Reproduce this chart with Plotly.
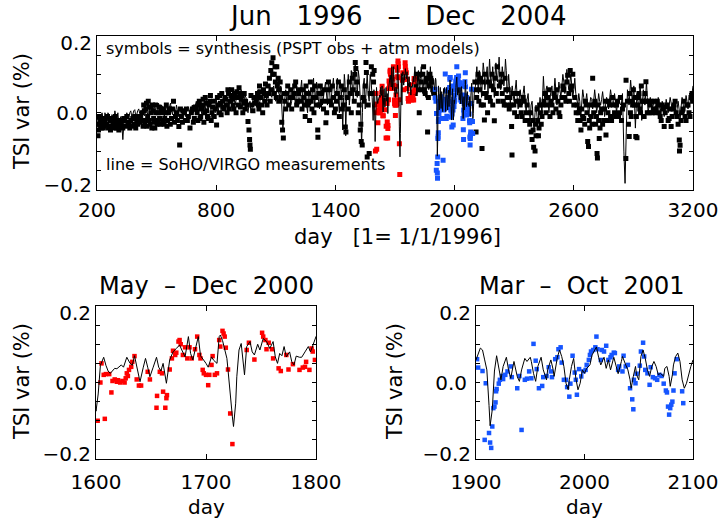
import plotly.graph_objects as go

# ---------------- data ----------------
# SoHO/VIRGO TSI variation (%) vs day (1 = 1/1/1996)
virgo_line = [
    (200,-0.02),(210,-0.005),(220,-0.03),(230,-0.01),(240,0.0),(250,-0.02),(260,-0.005),(270,-0.025),(280,-0.01),(290,0.005),
    (300,-0.015),(310,-0.03),(320,-0.01),(330,-0.07),(340,-0.01),(350,0.0),(360,-0.015),(370,0.005),(380,-0.005),(390,0.008),
    (400,-0.005),(410,0.01),(420,-0.005),(430,0.008),(440,-0.008),(450,0.01),(460,0.0),(470,0.015),(480,-0.005),(490,0.02),
    (500,0.0),(510,0.025),(520,0.005),(530,0.015),(540,-0.01),(550,0.02),(560,0.005),(570,0.025),(580,-0.005),(590,0.01),
    (600,0.02),(610,-0.01),(620,0.005),(630,-0.015),(640,0.01),(650,0.0),(660,0.015),(670,-0.005),(680,0.02),(690,0.005),
    (700,0.03),(710,0.0),(720,0.025),(730,-0.015),(740,0.02),(750,0.04),(760,0.005),(770,0.03),(780,-0.02),(790,0.015),
    (800,0.035),(810,0.0),(820,0.03),(830,0.01),(840,0.04),(850,0.015),(860,0.035),(870,0.05),(880,0.02),(890,0.055),
    (900,0.03),(910,0.06),(920,0.025),(930,0.05),(940,0.02),(950,0.04),(960,0.0),(970,0.03),(980,0.01),(990,0.045),
    (1000,0.02),(1010,0.06),(1020,0.03),(1030,0.065),(1040,0.025),(1050,0.05),(1060,0.035),(1070,0.075),(1080,0.04),(1090,0.07),
    (1100,0.03),(1110,0.08),(1120,0.045),(1130,0.02),(1136,-0.045),(1140,0.01),(1150,0.06),(1160,0.02),(1170,0.065),(1180,0.03),
    (1190,0.07),(1200,0.015),(1210,0.055),(1220,0.03),(1230,0.085),(1240,0.02),(1250,0.06),(1260,0.0),(1270,0.05),(1280,0.03),
    (1290,0.09),(1300,0.04),(1310,0.07),(1320,0.01),(1330,0.06),(1340,0.035),(1350,0.08),(1360,0.02),(1370,0.065),(1380,0.04),
    (1390,0.09),(1400,0.03),(1410,0.09),(1420,0.0),(1430,0.06),(1437,-0.045),(1445,0.1),(1452,-0.06),(1460,0.07),(1470,0.02),
    (1480,0.11),(1490,0.03),(1500,0.13),(1510,0.04),(1520,0.09),(1532,-0.085),(1540,0.07),(1550,0.01),(1560,0.1),(1570,0.03),
    (1580,0.08),(1590,-0.02),(1597,0.02),
    (1600,-0.075),(1602,-0.03),(1604,0.045),(1607,0.066),(1609,0.045),(1611,0.03),(1613,0.024),(1615,0.03),(1617,0.037),(1619,0.036),
    (1621,0.04),(1623,0.046),(1625,0.04),(1628,0.066),(1631,0.05),(1633,0.045),(1635,0.07),(1637,0.04),(1640,0.002),(1643,0.04),
    (1645,0.063),(1647,0.04),(1649,0.015),(1652,0.04),(1655,0.066),(1657,0.04),(1659,0.03),(1661,0.05),(1664,-0.002),(1667,0.059),
    (1670,0.08),(1673,0.089),(1676,0.098),(1678,0.085),(1681,0.067),(1684,0.12),(1686,0.076),(1688,0.059),(1690,0.085),(1693,0.12),
    (1695,0.07),(1698,0.059),(1700,0.05),(1702,0.04),(1705,0.067),(1707,0.058),(1710,0.05),(1712,0.12),(1713,0.124),(1715,0.11),
    (1717,0.09),(1719,0.063),(1720,0.033),(1722,-0.037),(1724,-0.09),(1725,-0.115),(1727,-0.054),(1728,0.015),(1730,0.085),(1732,0.102),
    (1734,0.033),(1735,0.02),(1737,0.094),(1740,0.107),(1742,0.08),(1744,0.072),(1747,0.1),(1749,0.085),(1752,0.115),(1755,0.107),
    (1758,0.089),(1761,0.107),(1763,0.067),(1765,0.05),(1767,0.076),(1769,0.07),(1771,0.094),(1773,0.067),(1776,0.08),(1778,0.054),
    (1780,0.046),(1782,0.069),(1785,0.066),(1787,0.066),(1790,0.08),(1793,0.094),(1795,0.08),(1797,0.098),(1799,0.115),(1800,0.12),
    (1803,0.1),(1810,0.05),(1818,0.11),(1825,0.06),(1832,0.12),(1840,0.05),(1848,0.1),(1855,0.04),(1862,0.11),(1870,0.06),
    (1878,0.12),(1885,0.05),(1892,0.09),(1897,0.07),
    (1900,0.059),(1904,0.09),(1906,0.085),(1908,0.059),(1910,0.033),(1912,-0.06),(1913,-0.113),(1915,-0.071),(1916,-0.01),(1917,0.03),
    (1919,0.07),(1921,0.042),(1923,0.007),(1925,0.042),(1928,0.066),(1930,0.033),(1932,0.011),(1935,0.055),(1938,0.016),(1940,0.003),
    (1942,0.033),(1945,0.063),(1947,0.055),(1950,0.066),(1951,0.055),(1953,0.024),(1955,0.003),(1957,0.042),(1960,0.066),(1962,0.033),
    (1965,0.007),(1966,0.033),(1969,0.059),(1971,0.035),(1972,0.016),(1975,0.066),(1977,0.085),(1979,0.068),(1981,0.042),(1983,-0.002),
    (1985,-0.019),(1986,0.007),(1988,0.042),(1990,0.063),(1992,0.011),(1994,-0.019),(1996,-0.002),(1998,0.033),(2000,0.024),(2002,0.037),
    (2005,0.046),(2007,0.072),(2009,0.081),(2011,0.093),(2013,0.066),(2015,0.046),(2018,0.066),(2020,0.037),(2022,0.059),(2024,0.033),
    (2027,0.066),(2029,0.042),(2031,0.023),(2034,0.055),(2035,0.068),(2038,0.046),(2040,0.033),(2042,0.007),(2043,-0.015),(2045,0.016),
    (2047,0.042),(2048,0.02),(2050,0.007),(2052,0.068),(2054,0.085),(2056,0.063),(2058,0.033),(2060,0.016),(2062,0.042),(2064,0.055),
    (2066,0.042),(2068,0.02),(2070,0.024),(2073,0.016),(2074,0.037),(2076,0.042),(2078,0.016),(2079,-0.01),(2081,0.02),(2082,0.046),
    (2084,0.068),(2086,0.077),(2088,0.055),(2090,0.007),(2092,-0.015),(2094,-0.002),(2096,0.024),(2098,0.042),(2100,0.059),
    (2105,0.07),(2112,0.12),(2120,0.05),(2128,0.1),(2136,0.04),(2144,0.13),(2152,0.06),(2160,0.11),(2168,0.05),(2176,0.14),
    (2184,0.07),(2192,0.12),(2200,0.04),(2208,0.13),(2216,0.08),(2224,0.145),(2232,0.06),(2240,0.12),(2248,0.07),(2256,0.14),
    (2264,0.05),(2272,0.1),(2280,0.02),(2290,0.07),(2300,0.03),(2310,0.085),(2320,0.01),(2330,0.06),(2340,0.02),(2350,0.07),
    (2360,0.0),(2370,0.05),(2380,-0.02),(2390,0.03),(2400,-0.04),(2410,0.02),(2420,-0.03),(2430,0.04),(2440,0.0),(2447,0.095),
    (2455,0.02),(2465,0.07),(2475,0.0),(2485,0.06),(2495,0.03),(2505,0.09),(2515,0.02),(2525,0.08),(2535,0.04),(2545,0.1),
    (2555,0.05),(2565,0.113),(2575,0.06),(2585,0.1),(2595,0.04),(2605,0.09),(2615,0.03),(2625,0.05),(2635,-0.01),(2645,0.06),
    (2655,0.02),(2665,0.05),(2675,-0.01),(2685,0.04),(2695,0.01),(2705,0.06),(2715,0.0),(2725,0.05),(2735,0.02),(2745,0.055),
    (2755,-0.01),(2765,0.04),(2775,0.01),(2785,0.06),(2795,0.02),(2805,0.05),(2815,0.0),(2825,0.045),(2835,0.02),(2845,0.05),
    (2852,-0.1),(2858,-0.184),(2864,-0.05),(2870,0.06),(2878,0.02),(2886,0.085),(2894,0.03),(2902,0.07),(2910,-0.04),(2918,0.05),
    (2926,0.01),(2934,0.075),(2942,-0.02),(2950,0.06),(2958,0.02),(2966,0.08),(2974,0.0),(2985,0.04),(2995,0.01),(3005,0.035),
    (3015,0.0),(3025,0.04),(3035,0.005),(3045,0.03),(3055,-0.01),(3065,0.035),(3075,0.0),(3085,0.04),(3095,0.01),(3105,0.035),
    (3115,-0.01),(3125,0.03),(3135,-0.02),(3145,0.04),(3155,0.0),(3165,0.045),(3175,0.01),(3185,0.05),(3195,0.06),(3200,0.07),
]

# further VIRGO readings between the ones above (outside the two zoomed periods)
virgo_line_more = [
    (205,-0.01),(215,-0.02),(225,0.0),(235,-0.025),(245,-0.01),(255,0.0),(265,-0.02),(275,-0.005),(285,-0.02),(295,-0.01),
    (305,0.0),(315,-0.02),(325,-0.03),(335,-0.03),(345,-0.015),(355,-0.01),(365,0.0),(375,-0.01),(385,0.005),(395,-0.008),
    (405,0.005),(415,-0.002),(425,0.005),(435,-0.005),(445,0.005),(455,-0.005),(465,0.01),(475,0.0),(485,0.01),(495,0.005),
    (505,0.015),(515,0.0),(525,0.02),(535,0.0),(545,0.01),(555,-0.005),(565,0.015),(575,0.005),(585,0.015),(595,0.0),
    (605,0.005),(615,0.01),(625,-0.005),(635,0.005),(645,-0.01),(655,0.015),(665,0.0),(675,0.01),(685,0.0),(695,0.02),
    (705,0.01),(715,0.02),(725,0.005),(735,0.01),(745,0.0),(755,0.02),(765,0.025),(775,0.0),(785,0.01),(795,0.0),
    (805,0.02),(815,0.025),(825,0.0),(835,0.03),(845,0.02),(855,0.03),(865,0.01),(875,0.025),(885,0.045),(895,0.02),
    (905,0.045),(915,0.035),(925,0.06),(935,0.03),(945,0.045),(955,0.015),(965,0.02),(975,0.0),(985,0.035),(995,0.02),
    (1005,0.045),(1015,0.02),(1025,0.05),(1035,0.03),(1045,0.06),(1055,0.03),(1065,0.06),(1075,0.045),(1085,0.065),(1095,0.04),
    (1105,0.065),(1115,0.05),(1125,0.07),(1145,0.045),(1155,0.03),(1165,0.05),(1175,0.02),(1185,0.06),(1195,0.04),(1205,0.07),
    (1215,0.02),(1225,0.06),(1235,0.04),(1245,0.07),(1255,0.02),(1265,0.06),(1275,0.02),(1285,0.06),(1295,0.02),(1305,0.08),
    (1315,0.03),(1325,0.075),(1335,0.02),(1345,0.06),(1355,0.04),(1365,0.08),(1375,0.02),(1385,0.07),(1395,0.05),
    (1405,0.06),(1415,0.03),(1425,0.08),(1434,0.02),(1441,0.04),(1448,0.08),(1456,0.03),(1465,0.1),(1475,0.05),(1485,0.07),
    (1495,0.1),(1505,0.06),(1515,0.11),(1526,0.03),(1536,0.0),(1545,0.09),(1555,0.06),(1565,0.05),(1575,0.1),(1585,0.04),(1594,0.06),
    (1806,0.08),(1814,0.09),(1821,0.07),(1828,0.09),(1836,0.08),(1844,0.08),(1851,0.07),(1858,0.08),(1866,0.09),(1874,0.08),
    (1881,0.09),(1889,0.07),
    (2109,0.09),(2116,0.08),(2124,0.11),(2132,0.07),(2140,0.09),(2148,0.11),(2156,0.08),(2164,0.12),(2172,0.09),(2180,0.1),
    (2188,0.09),(2196,0.08),(2204,0.1),(2212,0.09),(2220,0.11),(2228,0.1),(2236,0.09),(2244,0.1),(2252,0.09),(2260,0.11),
    (2268,0.06),(2276,0.07),(2285,0.05),(2295,0.045),(2305,0.06),(2315,0.04),(2325,0.035),(2335,0.04),(2345,0.05),(2355,0.03),
    (2365,0.035),(2375,0.01),(2385,0.02),(2395,-0.01),(2405,0.0),(2415,-0.01),(2425,0.01),(2435,0.02),(2451,0.05),(2460,0.06),
    (2470,0.03),(2480,0.04),(2490,0.07),(2500,0.05),(2510,0.06),(2520,0.05),(2530,0.06),(2540,0.07),(2550,0.08),(2560,0.07),
    (2570,0.08),(2580,0.075),(2590,0.07),(2600,0.06),(2610,0.05),(2620,0.02),(2630,0.03),(2640,0.02),(2650,0.04),(2660,0.03),
    (2670,0.02),(2680,0.02),(2690,0.035),(2700,0.03),(2710,0.035),(2720,0.02),(2730,0.03),(2740,0.035),(2750,0.03),(2760,0.02),
    (2770,0.03),(2780,0.035),(2790,0.04),(2800,0.025),(2810,0.03),(2820,0.025),(2830,0.03),(2840,0.025),(2874,0.04),(2882,0.05),
    (2890,0.06),(2898,0.045),(2906,0.02),(2914,0.01),(2922,0.03),(2930,0.04),(2938,0.03),(2946,0.03),(2954,0.04),(2962,0.05),
    (2970,0.04),(2980,0.02),(2990,0.03),(3000,0.02),(3010,0.02),(3020,0.02),(3030,0.025),(3040,0.015),(3050,0.02),(3060,0.01),
    (3070,0.02),(3080,0.02),(3090,0.025),(3100,0.02),(3110,0.02),(3120,0.01),(3130,0.01),(3140,0.015),(3150,0.025),(3160,0.02),
    (3170,0.03),(3180,0.035),(3190,0.03),
]

# synthesis (PSPT obs + atm models), plotted black outside the two highlighted periods
synth_black = [
    (205,-0.06),(210,-0.03),(215,-0.02),(222,-0.04),(228,-0.025),(235,-0.035),(242,-0.015),(250,-0.03),(258,-0.04),(265,-0.02),
    (272,-0.035),(280,-0.025),(288,-0.04),(295,-0.02),(302,-0.03),(310,-0.045),(318,-0.02),(325,-0.035),(340,-0.02),(360,-0.025),
    (380,-0.015),(400,-0.02),(420,-0.01),(428,0.0),(435,0.02),(440,-0.03),(446,0.01),(452,-0.035),(458,0.03),(463,-0.02),
    (470,0.015),(476,-0.04),(482,0.005),(488,-0.025),(495,0.02),(502,-0.03),(508,0.0),(515,-0.015),(522,0.01),(530,-0.02),
    (538,-0.03),(545,0.0),(555,-0.02),(565,0.01),(575,-0.015),(585,0.03),(595,-0.01),(612,-0.036),(616,-0.084),(625,-0.01),
    (640,0.0),(655,-0.02),(668,-0.04),(680,0.01),(690,-0.015),(700,0.01),(708,-0.02),(715,0.03),(722,-0.01),(730,0.02),
    (738,-0.025),(745,0.04),(752,0.005),(760,-0.015),(768,0.03),(775,-0.02),(782,0.015),(790,-0.01),(802,-0.032),(810,0.02),
    (818,0.045),(825,-0.005),(832,0.03),(840,0.01),(848,0.035),(855,0.0),(862,0.05),(870,0.03),(878,0.06),(885,0.02),
    (892,0.05),(900,0.0),(908,0.04),(915,0.065),(922,0.015),(930,0.045),(938,0.025),(945,0.01),(960,-0.023),(965,-0.045),
    (968,-0.07),(970,-0.084),(972,-0.095),(980,0.02),(990,0.04),(1000,0.03),(1008,0.05),(1015,0.01),(1022,0.055),(1030,0.02),
    (1038,0.06),(1045,0.03),(1052,0.045),(1060,0.07),(1068,0.09),(1075,0.11),(1080,0.13),(1086,0.143),(1092,0.1),(1098,0.08),
    (1105,0.12),(1112,0.09),(1118,0.06),(1125,0.04),(1130,-0.025),(1134,-0.045),(1138,-0.066),(1145,0.03),(1155,0.05),(1165,0.02),
    (1175,0.06),(1185,0.04),(1195,0.07),(1205,0.02),(1215,0.05),(1225,0.03),(1232,0.01),(1240,0.04),(1248,-0.01),(1255,0.05),
    (1262,0.02),(1270,-0.02),(1278,0.03),(1285,0.06),(1292,0.0),(1300,0.04),(1311,-0.045),(1312,-0.064),(1320,0.02),(1330,0.05),
    (1340,0.01),(1352,-0.026),(1360,0.03),(1370,0.06),(1380,0.02),(1390,0.04),(1400,0.01),(1410,0.05),(1420,-0.01),(1430,0.07),
    (1440,0.02),(1450,-0.037),(1453,-0.05),(1460,0.04),(1470,0.08),(1480,0.0),(1490,0.06),(1497,0.1),(1500,0.131),(1503,0.115),
    (1510,0.05),(1520,0.02),(1525,-0.045),(1528,-0.03),(1530,-0.075),(1535,-0.084),(1545,0.03),(1554,0.131),(1556,0.105),(1560,-0.115),
    (1570,-0.106),(1575,0.05),(1581,0.12),(1588,0.1),(1595,0.11),
    (1805,0.07),(1812,0.09),(1822,0.0),(1830,0.08),(1840,0.1),(1848,0.06),(1856,0.08),(1864,-0.05),(1872,0.07),(1880,0.09),(1890,0.06),
    (2105,0.06),(2108,-0.05),(2115,0.08),(2122,0.03),(2130,0.09),(2138,-0.093),(2145,0.02),(2150,-0.019),(2158,0.05),(2166,0.0),
    (2175,0.04),(2185,0.07),(2192,0.02),(2200,-0.021),(2210,0.05),(2220,0.03),(2232,0.08),(2240,0.05),(2250,0.02),(2258,0.06),
    (2265,0.04),(2275,0.01),(2287,-0.036),(2289,-0.11),(2298,0.02),(2305,0.05),(2315,-0.01),(2325,0.03),(2335,0.0),(2345,0.04),
    (2355,-0.02),(2365,0.02),(2378,-0.03),(2385,-0.05),(2390,-0.07),(2395,-0.045),(2398,-0.09),(2401,-0.136),(2405,-0.1),(2410,-0.06),
    (2418,-0.02),(2425,-0.04),(2432,0.0),(2440,-0.01),(2450,0.03),(2460,0.0),(2470,0.04),(2480,-0.01),(2490,0.02),(2500,0.05),
    (2510,0.01),(2520,0.03),(2530,-0.01),(2540,0.04),(2550,0.06),(2560,0.03),(2569,0.098),(2575,0.05),(2582,0.11),(2590,0.07),
    (2600,0.02),(2612,0.0),(2620,-0.02),(2628,0.01),(2636,-0.045),(2645,-0.01),(2655,-0.03),(2662,0.02),(2670,-0.075),(2674,-0.088),
    (2680,-0.04),(2688,-0.01),(2695,0.09),(2702,0.02),(2710,-0.03),(2717,-0.106),(2719,-0.118),(2725,-0.02),(2728,-0.067),(2735,0.0),
    (2745,-0.03),(2755,0.01),(2762,-0.058),(2768,-0.02),(2775,0.03),(2785,-0.01),(2795,0.04),(2805,0.0),(2815,0.02),(2825,-0.01),
    (2835,0.04),(2845,0.01),(2862,-0.119),(2863,0.085),(2879,-0.062),(2885,0.0),(2892,0.03),(2900,0.06),(2905,0.02),(2912,-0.062),
    (2918,-0.065),(2925,0.04),(2932,0.01),(2940,0.07),(2950,0.03),(2958,0.05),(2963,0.081),(2970,0.0),(2985,0.02),(2995,0.0),
    (3005,0.03),(3015,0.01),(3025,0.02),(3035,-0.01),(3045,0.02),(3055,-0.036),(3060,0.0),(3070,0.02),(3080,-0.015),(3090,-0.036),
    (3100,0.01),(3110,0.03),(3120,-0.01),(3131,-0.071),(3132,-0.1),(3135,-0.085),(3140,-0.02),(3150,0.01),(3160,-0.01),(3170,0.02),
    (3180,0.0),(3190,0.04),(3198,0.03),
]

# further black synthesis points inside the dense band
synth_black_more = [
    (203,-0.03),(207,-0.045),(212,-0.01),(218,-0.035),(225,-0.015),(232,-0.04),(238,-0.02),(245,-0.03),(253,-0.01),(262,-0.035),
    (268,-0.045),(276,-0.015),(284,-0.03),(292,-0.01),(298,-0.04),(306,-0.02),(314,-0.035),(322,-0.025),(330,-0.04),(335,-0.015),
    (345,-0.035),(350,-0.01),(355,-0.03),(365,-0.04),(370,-0.02),(375,-0.035),(385,-0.03),(390,-0.01),(395,-0.04),(405,-0.03),
    (410,-0.01),(415,-0.025),(424,-0.02),(432,-0.035),(438,0.005),(443,-0.02),(449,0.025),(455,-0.01),(461,0.015),(467,-0.03),
    (473,0.0),(479,0.02),(485,-0.015),(491,-0.04),(498,0.0),(505,-0.02),(512,0.015),(519,-0.03),(526,0.0),(534,0.01),
    (541,-0.015),(549,0.02),(552,-0.035),(560,0.0),(569,-0.03),(580,0.01),(590,-0.025),(600,0.0),(605,-0.02),(620,0.01),
    (630,-0.025),(635,0.005),(645,-0.02),(650,0.01),(660,-0.01),(675,0.0),(685,-0.025),(695,0.015),
    (704,0.0),(712,0.02),(719,-0.015),(726,0.01),(734,0.035),(742,0.0),(749,0.025),(756,-0.01),(764,0.02),(771,0.045),
    (779,0.0),(786,0.03),(795,0.01),(806,0.04),(814,0.0),(821,0.025),(828,0.05),(836,0.015),(844,0.04),(852,0.02),
    (859,0.06),(866,0.01),(874,0.045),(882,0.035),(889,0.01),(896,0.04),(904,0.055),(912,0.02),(919,0.05),(926,0.035),
    (934,0.0),(941,0.05),(948,0.03),(955,0.02),(975,0.045),(985,0.005),(995,0.025),
    (1004,0.04),(1012,0.02),(1018,0.07),(1026,0.04),(1034,0.0),(1042,0.05),(1048,0.075),(1056,0.02),(1064,0.05),(1072,0.03),
    (1078,0.06),(1084,0.1),(1090,0.05),(1096,0.12),(1102,0.04),(1108,0.07),(1115,0.03),(1122,0.08),(1142,0.05),(1150,0.01),
    (1160,0.07),(1170,0.04),(1180,0.01),(1190,0.05),(1200,0.08),(1210,0.03),(1220,0.06),
    (1236,0.06),(1244,0.02),(1252,0.07),(1258,0.03),(1266,0.05),(1274,0.08),(1282,0.01),(1288,0.04),(1296,0.07),(1304,0.02),
    (1316,0.05),(1324,0.07),(1335,0.03),(1345,0.06),(1356,0.0),(1365,0.08),(1375,0.03),(1385,0.07),(1395,0.0),(1405,0.03),
    (1415,0.08),(1425,0.04),(1435,0.01),(1445,0.06),(1465,0.01),(1475,0.05),(1485,0.09),(1495,0.03),(1507,0.08),(1515,0.0),
    (1540,0.04),(1550,0.07),(1565,0.02),(1585,0.05),(1592,0.08),
    (1802,0.05),(1808,0.1),(1816,0.06),(1826,0.1),(1836,0.06),(1844,0.12),(1852,0.05),(1860,0.09),(1868,0.04),(1876,0.1),
    (1885,0.08),(1895,0.05),
    (2102,0.08),(2111,0.04),(2118,0.1),(2126,0.06),(2134,0.02),(2142,0.08),(2148,0.05),(2155,0.1),(2162,0.04),(2170,0.08),
    (2180,0.03),(2188,0.1),(2196,0.06),(2204,0.09),(2214,0.12),(2225,0.07),(2236,0.1),(2245,0.03),(2254,0.09),(2262,0.02),
    (2270,0.06),(2278,0.04),(2283,0.02),(2293,0.05),(2302,0.0),(2310,0.03),(2320,0.05),(2330,0.02),(2340,-0.01),(2350,0.03),
    (2360,0.0),(2370,-0.02),(2382,0.0),(2393,-0.02),(2408,-0.03),(2415,0.01),(2422,-0.06),(2428,0.02),(2436,-0.03),(2444,0.02),
    (2455,0.05),(2465,0.02),(2475,0.06),(2485,0.03),(2495,0.0),(2505,0.04),(2515,0.06),(2525,0.0),(2535,0.02),(2545,0.07),
    (2555,0.04),(2565,0.08),(2578,0.03),(2586,0.06),(2595,0.1),(2605,0.04),
    (2616,0.02),(2625,0.0),(2632,-0.02),(2640,0.01),(2650,-0.015),(2658,0.03),(2666,0.0),(2678,-0.02),(2684,0.02),(2692,-0.03),
    (2700,0.0),(2706,0.03),(2714,-0.01),(2722,0.02),(2732,-0.04),(2740,0.01),(2750,-0.02),(2758,0.03),(2772,0.0),(2780,0.02),
    (2790,-0.02),(2800,0.02),(2810,-0.01),(2820,0.03),(2830,0.0),(2840,-0.02),(2850,0.02),
    (2870,0.03),(2875,-0.03),(2882,0.05),(2889,-0.01),(2896,0.02),(2908,0.04),(2915,-0.01),(2922,0.02),(2928,0.05),(2936,0.0),
    (2945,0.03),(2954,-0.01),(2966,0.03),(2975,0.03),(2980,0.0),(2990,0.03),(3000,0.01),(3010,0.0),(3020,0.03),(3030,0.0),
    (3040,-0.02),(3050,0.01),(3065,0.015),(3075,-0.02),(3085,0.01),(3095,-0.01),(3105,0.02),(3115,0.0),(3125,-0.03),(3145,0.0),
    (3155,0.03),(3165,-0.02),(3175,0.02),(3185,-0.01),(3195,0.05),
]

# synthesis, May - Dec 2000 (red)
synth_red = [
    (1601.5,-0.10),(1604,0.0),(1605,0.05),(1607,0.02),(1608,-0.095),(1609,0.022),(1612,0.022),(1614,-0.026),(1615,0.004),(1617,0.008),
    (1619,0.002),(1620,0.006),(1622,0.0),(1624,0.004),(1626,0.0),(1627,0.011),(1628,0.024),(1629,0.017),(1630,0.033),(1632,0.041),
    (1633,0.054),(1635,0.069),(1637,0.008),(1639,-0.008),(1641,-0.008),(1647,0.028),(1649,0.008),(1655,-0.066),(1655.5,-0.035),(1658,0.028),
    (1660,0.024),(1661,-0.024),(1663,-0.066),(1664,-0.041),(1664.5,-0.033),(1667,0.034),(1669,0.063),(1670,0.083),(1672,0.072),(1673,0.078),
    (1675,0.107),(1676,0.111),(1677,0.10),(1679,0.072),(1681,0.092),(1683,0.063),(1685,0.092),(1687,0.063),(1690,0.087),(1692,0.12),
    (1694,0.072),(1695,0.063),(1697,0.033),(1698,0.024),(1700,0.02),(1702,-0.007),(1703,0.02),(1705,0.046),(1706,0.069),(1708,0.02),
    (1710,0.024),(1712,0.111),(1713,0.094),(1715,0.135),(1716,0.128),(1717,0.12),(1718,0.091),(1720,0.034),(1722,-0.081),(1724,-0.161),
    (1737,0.085),(1739,0.104),(1744,0.06),(1751,0.13),(1752,0.12),(1754,0.111),(1755,0.087),(1757,0.104),(1760,0.087),(1761,0.063),
    (1766,0.037),(1768,0.03),(1773,0.072),(1775,0.034),(1779,0.048),(1785,0.033),(1788,0.039),(1790,0.041),(1791,0.054),(1794,0.033),
    (1796,0.089),(1797,0.081),(1799,0.059),
]

# synthesis, Mar - Oct 2001 (blue)
synth_blue = [
    (1901,0.061),(1902,0.039),(1906,0.030),(1908,-0.15),(1909,-0.002),(1912,-0.132),(1913,-0.157),(1914,-0.171),(1915,-0.115),(1916,-0.067),
    (1917,-0.063),(1918,-0.052),(1918.5,-0.023),(1919,-0.017),(1921,-0.003),(1922,0.007),(1924,0.017),(1925,0.009),(1927,0.02),(1929,0.029),
    (1932,0.042),(1933,0.014),(1938,-0.015),(1940,0.017),(1942,-0.124),(1945,0.007),(1947,0.01),(1949,0.029),(1951,0.011),(1953,0.101),
    (1955,0.057),(1956,0.035),(1958,-0.015),(1961,-0.009),(1962,0.014),(1965,0.017),(1967,0.04),(1969,0.029),(1970,0.014),(1973,0.061),
    (1975,0.066),(1976,0.087),(1978,0.092),(1979,0.052),(1981,0.007),(1983,0.007),(1984,-0.012),(1986,-0.037),(1987,-0.003),(1989,0.07),
    (1991,0.026),(1992,0.007),(1993,-0.032),(1995,0.035),(1997,0.016),(1999,0.029),(2001,0.033),(2002,0.046),(2004,0.059),(2005,0.072),
    (2006,0.081),(2008,0.085),(2010,0.092),(2011,0.12),(2012,0.087),(2015,0.059),(2016,0.085),(2018,0.081),(2020,0.096),(2022,0.059),
    (2024,0.066),(2025,0.072),(2027,0.078),(2028,0.077),(2031,0.033),(2032,0.042),(2035,0.029),(2036,0.07),(2038,0.042),(2040,0.046),
    (2042,-0.015),(2044,-0.044),(2045,-0.07),(2045.5,0.007),(2047,-0.002),(2048,0.023),(2051,0.044),(2052,0.081),(2054,0.104),(2055,0.068),
    (2056,0.033),(2058,0.024),(2060,-0.006),(2061,0.04),(2063,0.014),(2065,0.011),(2067,0.007),(2069,0.02),(2071,0.017),(2073,-0.003),
    (2075,-0.021),(2076,-0.026),(2077,-0.063),(2078,-0.084),(2079,-0.067),(2080,-0.058),(2081,-0.05),(2082,-0.021),(2083,0.024),(2085,0.061),
    (2090,-0.023),(2091,-0.054),
]

top_xticks = [200, 800, 1400, 2000, 2600, 3200]
left_xticks = [1600, 1700, 1800]
right_xticks = [1900, 2000, 2100]
y_ticks = [-0.2, -0.15, -0.1, -0.05, 0.0, 0.05, 0.1, 0.15, 0.2]
y_ticklabels = ["", "", "", "", "0.0", "", "", "", ""]

# ---------------- figure ----------------
def unzip(pairs):
    return [p[0] for p in pairs], [p[1] for p in pairs]

lx, ly = unzip(sorted(virgo_line + virgo_line_more, key=lambda p: p[0]))
bx, by = unzip(synth_black + synth_black_more)
rx, ry = unzip(synth_red)
ux, uy = unzip(synth_blue)

W, H = 719, 521
FONT = "DejaVu Sans"
RED = "#ff0000"
BLUE = "#1655ff"

fig = go.Figure()

def add_panel(xa, ya, with_black, ms):
    if with_black:
        fig.add_trace(go.Scatter(x=bx, y=by, mode="markers", xaxis=xa, yaxis=ya,
                                 marker=dict(symbol="square", size=ms, color="black", line=dict(width=0))))
    fig.add_trace(go.Scatter(x=rx, y=ry, mode="markers", xaxis=xa, yaxis=ya,
                             marker=dict(symbol="square", size=ms, color=RED, line=dict(width=0))))
    fig.add_trace(go.Scatter(x=ux, y=uy, mode="markers", xaxis=xa, yaxis=ya,
                             marker=dict(symbol="square", size=ms, color=BLUE, line=dict(width=0))))
    fig.add_trace(go.Scatter(x=lx, y=ly, mode="lines", xaxis=xa, yaxis=ya,
                             line=dict(color="black", width=1)))

add_panel("x", "y", True, 5)
add_panel("x2", "y2", False, 4.5)
add_panel("x3", "y3", False, 4.5)

def px_dom(a, b):
    return [a / W, b / W]

def py_dom(top, bottom):
    return [1 - bottom / H, 1 - top / H]

tick_font = dict(family=FONT, size=20, color="black")
axis_common = dict(showline=True, linecolor="black", linewidth=1, mirror="ticks",
                   ticks="inside", tickcolor="black", showgrid=False, zeroline=False,
                   automargin=False, tickfont=tick_font)

def xaxis(dom, rng, ticks, anchor, standoff, tl=5):
    return dict(axis_common, domain=dom, range=rng, tickmode="array", tickvals=ticks,
                ticktext=[str(t) for t in ticks], anchor=anchor, ticklen=tl,
                ticklabelstandoff=standoff)

def yaxis(dom, anchor, tl=4):
    return dict(axis_common, domain=dom, range=[-0.2, 0.2], tickmode="array", tickvals=y_ticks,
                ticktext=y_ticklabels, anchor=anchor, ticklen=tl, ticklabelstandoff=4)

def ylabel_axis(over, anchor, val, text, shift):
    # extra label-only axis: the end labels sit inside the frame, as in the original
    return dict(overlaying=over, anchor=anchor, side="left", range=[-0.2, 0.2], tickmode="array",
                tickvals=[val], ticktext=[text], ticks="", showline=False, showgrid=False,
                zeroline=False, automargin=False, tickfont=tick_font, ticklabelstandoff=4,
                ticklabelshift=shift)

fig.update_layout(
    width=W, height=H, margin=dict(l=0, r=0, t=0, b=0, autoexpand=False),
    paper_bgcolor="white", plot_bgcolor="white", showlegend=False,
    xaxis=xaxis(px_dom(97, 693), [200, 3200], top_xticks, "y", 2),
    yaxis=yaxis(py_dom(36, 189.5), "x"),
    xaxis2=xaxis(px_dom(96, 316), [1600, 1800], left_xticks, "y2", 5),
    yaxis2=yaxis(py_dom(306, 459), "x2"),
    xaxis3=xaxis(px_dom(476, 693), [1900, 2100], right_xticks, "y3", 5),
    yaxis3=yaxis(py_dom(306, 459), "x3"),
    yaxis4=ylabel_axis("y", "x", 0.2, "0.2", 7),
    yaxis5=ylabel_axis("y", "x", -0.2, "\u22120.2", -5),
    yaxis6=ylabel_axis("y2", "x2", 0.2, "0.2", 7),
    yaxis7=ylabel_axis("y2", "x2", -0.2, "\u22120.2", -5),
    yaxis8=ylabel_axis("y3", "x3", 0.2, "0.2", 7),
    yaxis9=ylabel_axis("y3", "x3", -0.2, "\u22120.2", -5),
)
for xa, ya in [("x", "y4"), ("x", "y5"), ("x2", "y6"), ("x2", "y7"), ("x3", "y8"), ("x3", "y9")]:
    fig.add_trace(go.Scatter(x=[None], y=[None], xaxis=xa, yaxis=ya, mode="markers",
                             hoverinfo="skip", showlegend=False))

nb = "\u00a0"
def spaced(words, n):
    return (nb * n).join(words)

def label(text, x, y, size, angle=0, anchor="center"):
    fig.add_annotation(text=text, xref="paper", yref="paper", x=x / W, y=1 - y / H,
                       xanchor=anchor, yanchor="middle", showarrow=False, textangle=angle,
                       font=dict(family=FONT, size=size, color="black"))

# titles
label(spaced(["Jun", "1996", "\u2013", "Dec", "2004"], 3), 397, 16, 26)
label(spaced(["May", "\u2013", "Dec", "2000"], 2), 206, 286, 24)
label(spaced(["Mar", "\u2013", "Oct", "2001"], 2), 582, 286, 24)
# axis titles
label("day" + nb * 3 + "[1=" + nb + "1/1/1996]", 397, 237, 21)
label("day", 206, 507, 20)
label("day", 584, 507, 20)
label("TSI var (%)", 22, 112, 21, angle=-90)
label("TSI var (%)", 22, 382, 21, angle=-90)
label("TSI var (%)", 395, 382, 21, angle=-90)
# notes in the top panel
label("symbols = synthesis (PSPT obs + atm models)", 104, 48, 16, anchor="left")
label("line = SoHO/VIRGO measurements", 104, 164, 16, anchor="left")

# the figure fills the whole window: drop the page's default body margin; no toolbar
fig.write_html("out.html", config={"displayModeBar": False, "staticPlot": True},
               post_script="document.body.style.margin='0px';document.body.style.overflow='hidden';")
